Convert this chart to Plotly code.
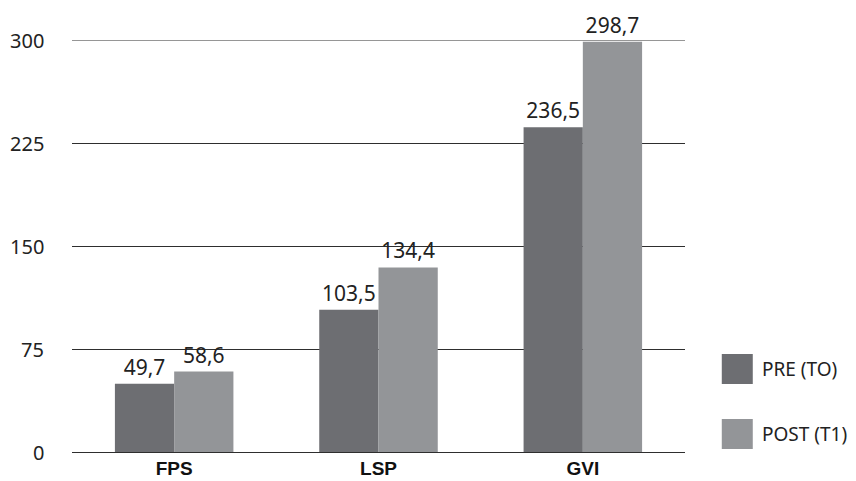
import plotly.graph_objects as go

categories = ["FPS", "LSP", "GVI"]
pre_values = [49.7, 103.5, 236.5]
post_values = [58.6, 134.4, 298.7]
series_names = ["PRE (TO)", "POST (T1)"]
y_ticks = [0, 75, 150, 225, 300]

pre_color = "#6d6e72"
post_color = "#939598"
text_family = "Noto Sans, Liberation Sans, sans-serif"
label_font = dict(family=text_family, size=21, color="#222222")

fig = go.Figure()
for name, vals, col in [(series_names[0], pre_values, pre_color),
                        (series_names[1], post_values, post_color)]:
    fig.add_trace(go.Bar(
        x=categories, y=vals, name=name, marker=dict(color=col, line=dict(width=0)),
        text=vals, texttemplate="%{y:.1f}", textposition="outside",
        textfont=label_font, cliponaxis=False, showlegend=False,
    ))

# y tick labels, right aligned a fixed distance left of the plot
for v in y_ticks:
    fig.add_annotation(x=0, xref="paper", xshift=-26, xanchor="right",
                       y=v, yref="y", yanchor="middle", showarrow=False,
                       text=str(v),
                       font=dict(family=text_family, size=20, color="#222222"))

# legend drawn as swatches with captions
plot_h = 412
legend_items = [(series_names[0], pre_color, 83 / plot_h), (series_names[1], post_color, 18 / plot_h)]
for name, col, yc in legend_items:
    fig.add_shape(type="rect", xref="paper", yref="paper",
                  x0=1.06, x1=1.06 + 31 / 613, y0=yc - 15 / plot_h, y1=yc + 15 / plot_h,
                  fillcolor=col, line=dict(width=0))
    fig.add_annotation(x=1.06 + 38 / 613, xref="paper", y=yc, yref="paper",
                       xanchor="left", yanchor="middle", showarrow=False, text=name,
                       font=dict(family=text_family, size=19, color="#222222"))

fig.update_layout(
    width=856, height=481,
    margin=dict(l=72, r=171, t=40, b=29),
    paper_bgcolor="white", plot_bgcolor="white",
    barmode="group", bargap=0.42, bargroupgap=0,
    separators=", ",
    showlegend=False,
    xaxis=dict(showgrid=False, showline=False, ticks="", automargin=False,
               ticklabelstandoff=3,
               tickfont=dict(family="Liberation Sans, Arial, sans-serif",
                             size=19, color="#111111", weight="bold")),
    yaxis=dict(range=[0, 300], tickvals=y_ticks, showticklabels=False, automargin=False,
               showgrid=True, gridcolor="#2e2e2e", gridwidth=1,
               zeroline=True, zerolinecolor="#2e2e2e", zerolinewidth=1,
               showline=False, ticks=""),
)

# the top gridline sits on the plot edge, so draw it explicitly
fig.add_shape(type="line", xref="paper", yref="y", x0=0, x1=1, y0=300, y1=300,
              line=dict(color="#2e2e2e", width=1), layer="below")

fig.write_html("out.html")
